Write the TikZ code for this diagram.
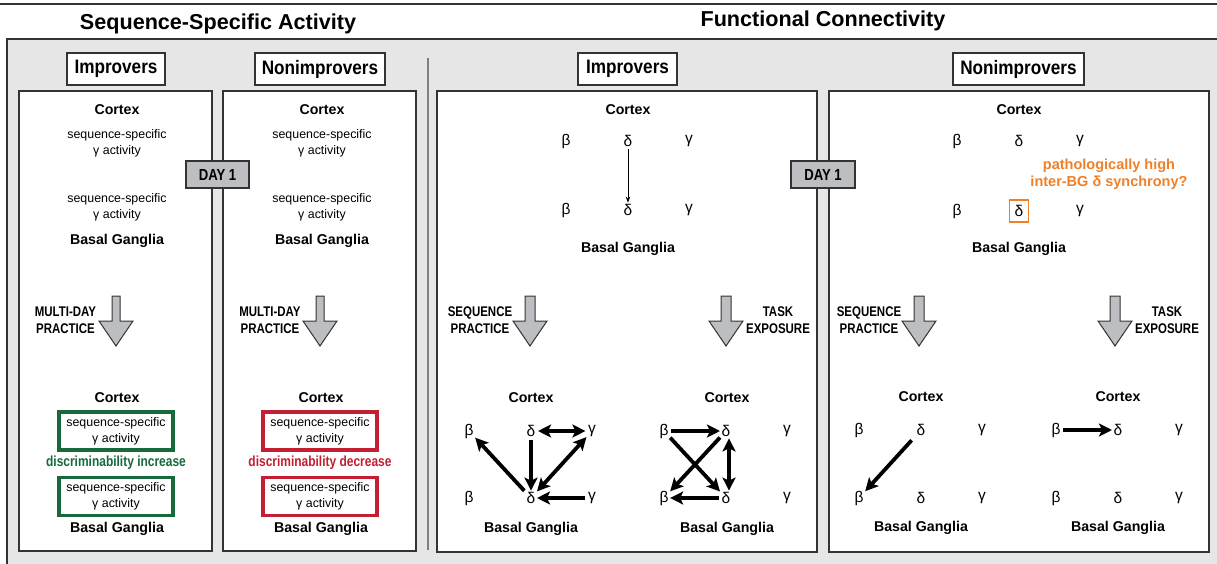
\documentclass[tikz,border=0pt]{standalone}
\usepackage{fontspec}
\setmainfont{Liberation Sans}
\newfontfamily\condfont[FakeStretch=0.82]{Liberation Sans}
\newfontfamily\boxfont[FakeStretch=0.88]{Liberation Sans}
\usetikzlibrary{arrows.meta}
\definecolor{panelgray}{RGB}{230,230,230}
\definecolor{framegray}{RGB}{51,51,51}
\definecolor{sepgray}{RGB}{128,128,128}
\definecolor{arrowgray}{RGB}{189,190,194}
\definecolor{goodgreen}{RGB}{22,106,60}
\definecolor{badred}{RGB}{196,30,50}
\definecolor{synorange}{RGB}{240,128,40}

% a 2x3 grid of band labels: beta, delta, gamma for cortex (top) and basal ganglia (bottom)
\newcommand\greekgrid[4]{%
  \node[greek] (#1bt) at (#2-62,#3) {β};
  \node[greek] (#1dt) at (#2,#3) {δ};
  \node[greek] (#1gt) at (#2+61,#3) {γ};
  \node[greek] (#1bb) at (#2-62,#4) {β};
  \node[greek] (#1db) at (#2,#4) {δ};
  \node[greek] (#1gb) at (#2+61,#4) {γ};
}

\begin{document}
\begin{tikzpicture}[x=1pt,y=-1pt,
  title/.style={font=\fontsize{21.6}{24}\selectfont\bfseries},
  group/.style={draw=framegray,line width=1.8pt,fill=white,
    font=\boxfont\fontsize{19.5}{22}\selectfont\bfseries,minimum height=32pt,inner sep=0pt},
  panel/.style={draw=framegray,line width=1.8pt,fill=white},
  region/.style={font=\fontsize{14.2}{16}\selectfont\bfseries},
  act/.style={font=\fontsize{12.4}{15.8}\selectfont,align=center},
  actbox/.style={act,line width=3.5pt,fill=white,minimum width=114pt,minimum height=38pt,inner sep=0pt},
  discrim/.style={font=\condfont\fontsize{14.6}{17}\selectfont\bfseries},
  phaselabel/.style={font=\condfont\fontsize{14}{17}\selectfont\bfseries,align=center},
  daybox/.style={draw=framegray,line width=1.5pt,fill=arrowgray,
    font=\condfont\fontsize{16}{18}\selectfont\bfseries,minimum height=27pt,inner sep=0pt},
  greek/.style={font=\fontsize{15.5}{17}\selectfont,inner sep=1.5pt},
  conn/.style={line width=3.8pt,-{Stealth[length=13pt,width=13pt,inset=3pt]}},
  biconn/.style={line width=3.8pt,{Stealth[length=13pt,width=13pt,inset=3pt]}-{Stealth[length=13pt,width=13pt,inset=3pt]}},
  thinconn/.style={line width=0.8pt,-{Stealth[length=6pt,width=4.5pt]}},
  pics/bigdown/.style={code={
    \draw[draw=framegray,fill=arrowgray,line width=1pt,line join=miter]
      (-#1,0) -- (#1,0) -- (#1,25) -- (17,25) -- (0,50) -- (-17,25) -- (-#1,25) -- cycle;}}
]
\useasboundingbox (0,0) rectangle (1217,564);

% header rule, titles and grey backdrop
\draw[framegray,line width=1.5pt] (0,4) -- (1217,4);
\node[title] (tleft) at (218,23.5) {Sequence-Specific Activity};
\node[title] (tright) at (823,21) {Functional Connectivity};
\fill[panelgray] (7,39) rectangle (1217,564);
\draw[framegray,line width=1.5pt] (7,564) -- (7,39) -- (1217,39);
\draw[sepgray,line width=1.3pt] (428,58) -- (428,550);

% group headings
\node[group,minimum width=98pt] (g1) at (116,69) {Improvers};
\node[group,minimum width=130pt] (g2) at (320,69) {Nonimprovers};
\node[group,minimum width=99pt] (g3) at (627.5,69) {Improvers};
\node[group,minimum width=131pt] (g4) at (1018.5,69) {Nonimprovers};

% white panels
\draw[panel] (19,91) rectangle (212,551);
\draw[panel] (223,91) rectangle (416,551);
\draw[panel] (437,91) rectangle (817,552);
\draw[panel] (829,91) rectangle (1209,552);

% ---------- sequence-specific activity ----------
\foreach \p/\cx in {1/117,2/322}{
  \node[region] (ctx\p) at (\cx,110) {Cortex};
  \node[act] (ca\p) at (\cx,143) {sequence-specific\\γ activity};
  \node[act] (ba\p) at (\cx,207) {sequence-specific\\γ activity};
  \node[region] (bg\p) at (\cx,241) {Basal Ganglia};
}
\node[daybox,minimum width=63pt] (day1) at (217.5,174.5) {DAY 1};

\pic at (116,296) {bigdown=4};
\node[phaselabel] (md1) at (65.5,320.5) {MULTI-DAY\\PRACTICE};
\pic at (320,296) {bigdown=4};
\node[phaselabel] (md2) at (270,320.5) {MULTI-DAY\\PRACTICE};

\node[region] (ctx1b) at (117,398) {Cortex};
\node[actbox,draw=goodgreen] (ic1) at (116,431) {sequence-specific\\γ activity};
\node[discrim,text=goodgreen] (inc) at (116,463) {discriminability increase};
\node[actbox,draw=goodgreen] (ib1) at (116,496.5) {sequence-specific\\γ activity};
\node[region] (bg1b) at (117,529) {Basal Ganglia};

\node[region] (ctx2b) at (321,398) {Cortex};
\node[actbox,draw=badred] (nc1) at (320,431) {sequence-specific\\γ activity};
\node[discrim,text=badred] (dec) at (320,463) {discriminability decrease};
\node[actbox,draw=badred] (nb1) at (320,496.5) {sequence-specific\\γ activity};
\node[region] (bg2b) at (321,529) {Basal Ganglia};

% ---------- functional connectivity ----------
% improvers, day 1
\node[region] (ctx3) at (628,110) {Cortex};
\greekgrid{a}{628}{141}{210}
\node[region] (bg3) at (628,249) {Basal Ganglia};
\draw[thinconn,shorten <=1pt] (adt) -- (adb);

% nonimprovers, day 1
\node[region] (ctx4) at (1019,110) {Cortex};
\greekgrid{b}{1019}{141}{211}
\node[region] (bg4) at (1019,249) {Basal Ganglia};
\draw[synorange,line width=1.8pt] ([shift={(-9.5,-11)}]bdb.center) rectangle ([shift={(9.5,11)}]bdb.center);
\node[font=\fontsize{14.5}{17}\selectfont\bfseries,text=synorange,align=center] (patho) at (1109,174.5)
  {pathologically high\\inter-BG δ synchrony?};

\node[daybox,minimum width=64pt] (day2) at (823,174.5) {DAY 1};

% training arrows
\pic at (530,296) {bigdown=5};
\node[phaselabel] (sp3) at (480,320.5) {SEQUENCE\\PRACTICE};
\pic at (726,296) {bigdown=5};
\node[phaselabel] (te3) at (778,320.5) {TASK\\EXPOSURE};
\pic at (919,296) {bigdown=5};
\node[phaselabel] (sp4) at (869,320.5) {SEQUENCE\\PRACTICE};
\pic at (1115,296) {bigdown=5};
\node[phaselabel] (te4) at (1167,320.5) {TASK\\EXPOSURE};

% improvers after sequence practice
\node[region] (ctx3s) at (531,398) {Cortex};
\greekgrid{c}{531}{431}{498}
\node[region] (bg3s) at (531,529) {Basal Ganglia};
\draw[biconn,shorten <=1pt,shorten >=1pt] (cdt) -- (cgt);
\draw[conn,shorten <=2pt] (cdt) -- (cdb);
\draw[biconn] (cgt) -- (cdb);
\draw[conn,shorten <=1pt] (cdb) -- (cbt);
\draw[conn,shorten <=1pt] (cgb) -- (cdb);

% improvers after task exposure
\node[region] (ctx3t) at (727,398) {Cortex};
\greekgrid{d}{726}{431}{498}
\node[region] (bg3t) at (727,529) {Basal Ganglia};
\draw[conn,shorten <=1pt] (dbt) -- (ddt);
\draw[conn] (dbt) -- (ddb);
\draw[conn] (ddt) -- (dbb);
\draw[biconn] ([xshift=3pt]ddt.south) -- ([xshift=3pt]ddb.north);
\draw[conn,shorten <=1pt] (ddb) -- (dbb);

% nonimprovers after sequence practice
\node[region] (ctx4s) at (921,397) {Cortex};
\greekgrid{e}{921}{430}{498}
\node[region] (bg4s) at (921,528) {Basal Ganglia};
\draw[conn,shorten <=5pt] (edt) -- (ebb);

% nonimprovers after task exposure
\node[region] (ctx4t) at (1118,397) {Cortex};
\greekgrid{f}{1118}{430}{498}
\node[region] (bg4t) at (1118,528) {Basal Ganglia};
\draw[conn,shorten <=1pt] (fbt) -- (fdt);
\end{tikzpicture}
\end{document}
